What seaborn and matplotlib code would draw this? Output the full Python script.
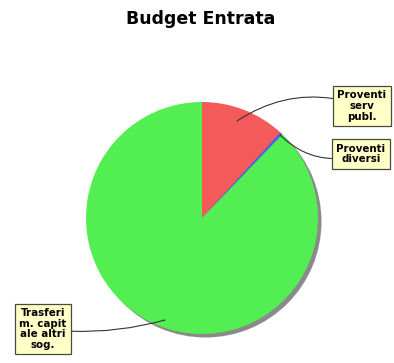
import matplotlib
matplotlib.use("Agg")
import matplotlib.pyplot as plt
import seaborn as sns

categories = ["Proventi\nserv\npubl.", "Proventi\ndiversi", "Trasferi\nm. capit\nale altri\nsog."]
values = [11.8, 0.4, 87.8]
colors = ["#f45a5a", "#4d5fe6", "#52ee52"]

sns.set_style("white")
plt.rcParams['font.family'] = ['DejaVu Sans']

fig = plt.figure(figsize=(3.94, 3.63), dpi=100)
ax = fig.add_axes([0, 0, 1, 1])
# shadow
ax.pie([sum(values)], colors=['#8a8a8a'], radius=1.0, center=(0.03, -0.03),
       wedgeprops=dict(linewidth=0))
wedges, _ = ax.pie(values, colors=colors, startangle=90, counterclock=False,
                   radius=1.0, center=(0, 0),
                   wedgeprops=dict(linewidth=0))
ax.set_xlim(-202/116, (394-202)/116)
ax.set_ylim(-145/116, 218/116)
ax.set_aspect('auto')
ax.axis('off')

def d(px, py):
    return ((px-202)/116, (218-py)/116)

label_pos = [d(362, 106), d(361, 154), d(43, 329)]
point_pos = [d(237, 121), d(280, 135), d(165, 320)]
rads = [0.25, -0.3, 0.1]
for lab, tp, pp, r in zip(categories, label_pos, point_pos, rads):
    ax.annotate(lab, xy=pp, xytext=tp, ha='center', va='center',
                fontsize=7.4, fontweight='bold', linespacing=1.1, color='black',
                bbox=dict(boxstyle='square,pad=0.4', fc='#ffffc8', ec='#4a4a3a', lw=0.9),
                arrowprops=dict(arrowstyle='-', color='#333333', lw=0.8,
                                connectionstyle=f'arc3,rad={r}', shrinkA=0, shrinkB=0))

fig.text(201/394, 1-19/363, "Budget Entrata", ha='center', va='center',
         fontsize=12.5, fontweight='bold', color='black')

fig.savefig("out.png", dpi=100)
